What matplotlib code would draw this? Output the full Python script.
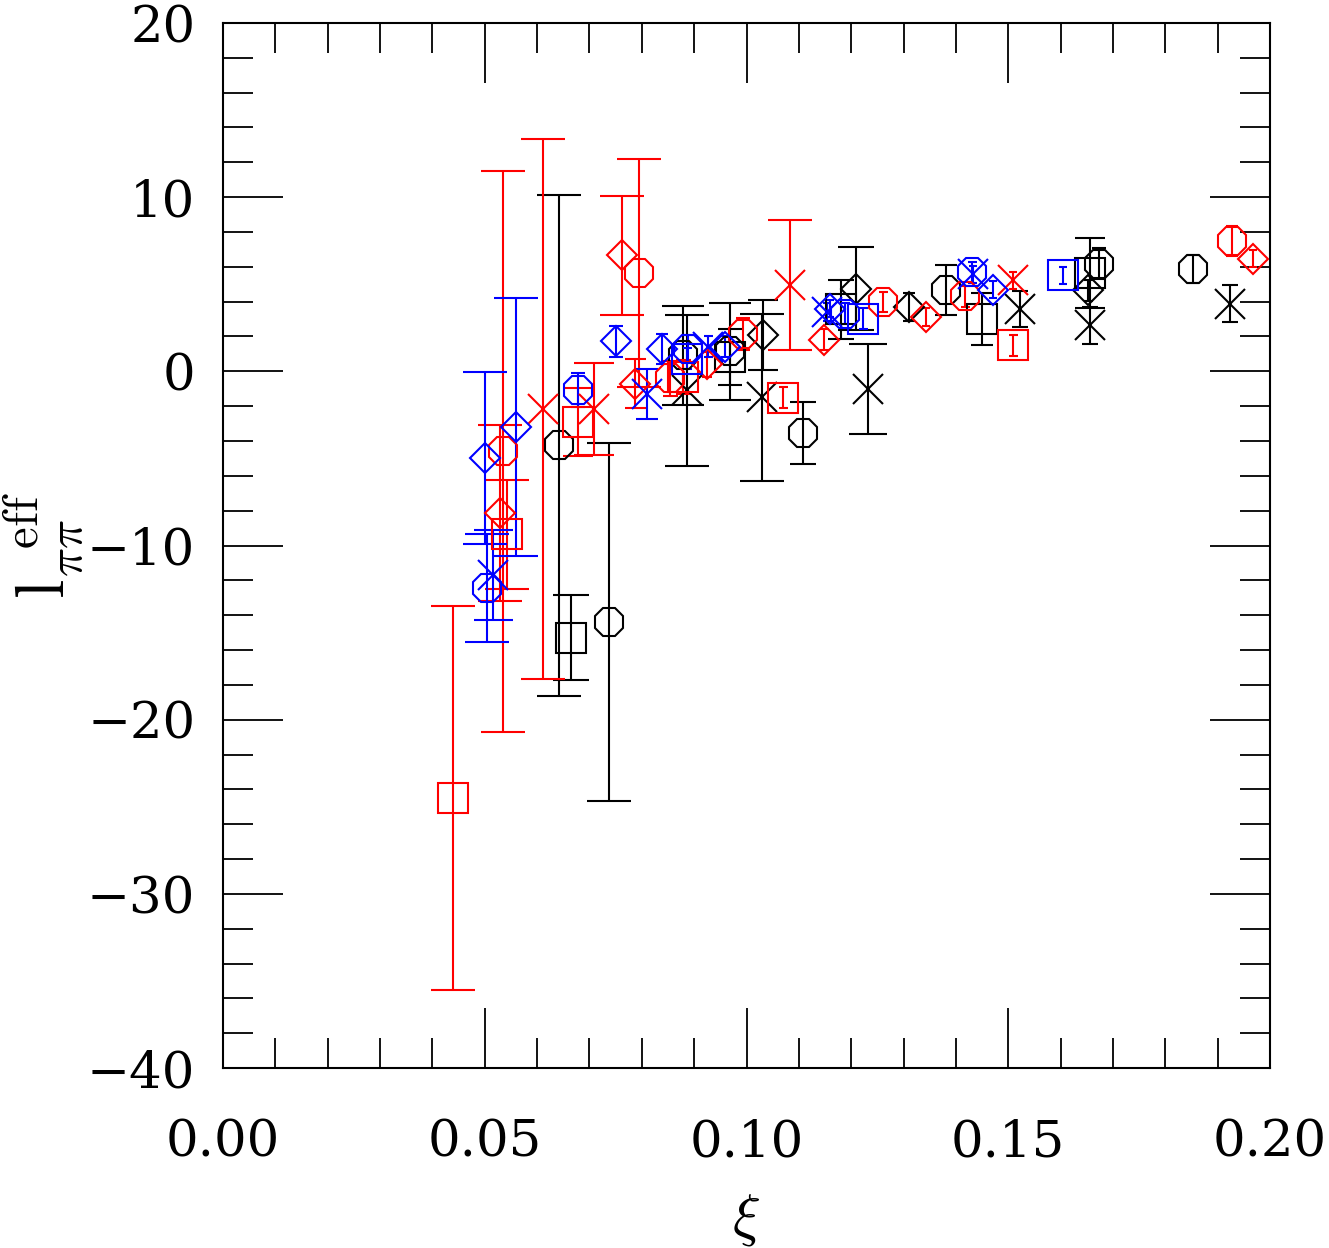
import matplotlib
matplotlib.use("Agg")
import matplotlib.pyplot as plt
from matplotlib.ticker import MultipleLocator, FormatStrFormatter

# ---- data: (xi, value, error) per colour / marker ----
blk_oct_x = [0.0642, 0.0738, 0.0879, 0.0968, 0.1108, 0.1381, 0.1674, 0.1853]
blk_oct_y = [-4.25, -14.39, 0.92, 1.14, -3.54, 4.65, 6.18, 5.89]
blk_oct_e = [14.4, 10.28, 2.83, 2.8, 1.77, 1.43, 0.9, 0.8]

blk_sq_x = [0.0665, 0.0968, 0.1181, 0.1449, 0.1656]
blk_sq_y = [-15.29, 0.82, 3.57, 3.02, 5.65]
blk_sq_e = [2.46, 1.63, 1.7, 1.5, 2.0]

blk_dia_x = [0.1032, 0.1210, 0.1311, 0.1653]
blk_dia_y = [2.1, 4.75, 3.69, 4.65]
blk_dia_e = [2.0, 2.39, 0.8, 0.6]

blk_x_x = [0.0886, 0.1029, 0.1233, 0.1522, 0.1656, 0.1924]
blk_x_y = [-1.08, -1.48, -1.0, 3.56, 2.64, 3.89]
blk_x_e = [4.33, 4.8, 2.58, 1.03, 1.05, 1.07]

red_oct_x = [0.0535, 0.0795, 0.0854, 0.0994, 0.1261, 0.1417, 0.1927]
red_oct_y = [-4.6, 5.64, -0.4, 2.16, 3.98, 4.32, 7.48]
red_oct_e = [16.1, 6.53, 1.0, 0.93, 0.6, 0.6, 0.85]

red_sq_x = [0.0440, 0.0543, 0.0679, 0.0879, 0.1070, 0.1510]
red_sq_y = [-24.5, -9.35, -2.9, -0.33, -1.51, 1.49]
red_sq_e = [11.0, 3.13, 1.95, 1.0, 0.6, 0.6]

red_dia_x = [0.0529, 0.0762, 0.0787, 0.0925, 0.1148, 0.1343, 0.1968]
red_dia_y = [-8.15, 6.66, -0.71, 0.4, 1.82, 3.12, 6.47]
red_dia_e = [5.05, 3.4, 1.4, 0.7, 0.6, 0.5, 0.5]

red_x_x = [0.0612, 0.0709, 0.1084, 0.1510]
red_x_y = [-2.18, -2.17, 4.94, 5.22]
red_x_e = [15.5, 2.65, 3.73, 0.5]

blu_oct_x = [0.0505, 0.0678, 0.0889, 0.1188, 0.1430]
blu_oct_y = [-12.45, -1.05, 1.3, 3.31, 5.7]
blu_oct_e = [3.1, 0.97, 0.77, 0.6, 0.6]

blu_sq_x = [0.0886, 0.1223, 0.1605]
blu_sq_y = [0.73, 3.03, 5.51]
blu_sq_e = [0.6, 0.6, 0.5]

blu_dia_x = [0.0500, 0.0559, 0.0750, 0.0838, 0.0959, 0.1160, 0.1470]
blu_dia_y = [-4.97, -3.19, 1.74, 1.3, 1.4, 3.6, 4.69]
blu_dia_e = [4.93, 7.42, 0.89, 0.86, 0.6, 0.5, 0.5]

blu_x_x = [0.0515, 0.0809, 0.0927, 0.1153, 0.1433]
blu_x_y = [-11.7, -1.3, 1.4, 3.4, 5.57]
blu_x_e = [2.6, 1.43, 0.6, 0.5, 0.5]

xticks = [0.00, 0.05, 0.10, 0.15, 0.20]
yticks = [-40, -30, -20, -10, 0, 10, 20]

series = [
    (blk_oct_x, blk_oct_y, blk_oct_e, "black", "8"),
    (blk_sq_x, blk_sq_y, blk_sq_e, "black", "s"),
    (blk_dia_x, blk_dia_y, blk_dia_e, "black", "D"),
    (blk_x_x, blk_x_y, blk_x_e, "black", "x"),
    (red_oct_x, red_oct_y, red_oct_e, "red", "8"),
    (red_sq_x, red_sq_y, red_sq_e, "red", "s"),
    (red_dia_x, red_dia_y, red_dia_e, "red", "D"),
    (red_x_x, red_x_y, red_x_e, "red", "x"),
    (blu_oct_x, blu_oct_y, blu_oct_e, "blue", "8"),
    (blu_sq_x, blu_sq_y, blu_sq_e, "blue", "s"),
    (blu_dia_x, blu_dia_y, blu_dia_e, "blue", "D"),
    (blu_x_x, blu_x_y, blu_x_e, "blue", "x"),
]
msize = {"8": 22, "s": 21, "D": 15, "x": 21}

plt.rcParams['font.family'] = ['DejaVu Serif']
plt.rcParams['mathtext.fontset'] = 'cm'

fig = plt.figure(figsize=(13.29, 12.48), dpi=100)
ax = fig.add_axes([223/1329, 1-1068/1248, (1270-223)/1329, (1068-23)/1248])

for xs, ys, es, col, mk in series:
    for x, y, e in zip(xs, ys, es):
        cap = min(15.5, 5.4 * e)
        ax.errorbar([x], [y], yerr=[e], fmt=mk, color=col, mfc='none', mec=col,
                    ms=msize[mk], mew=1.5, elinewidth=1.5, capsize=cap,
                    capthick=1.5, ecolor=col)

ax.set_xlim(0.0, 0.2)
ax.set_ylim(-40, 20)
ax.set_xticks(xticks)
ax.set_yticks(yticks)
ax.xaxis.set_major_formatter(FormatStrFormatter('%.2f'))
ax.xaxis.set_minor_locator(MultipleLocator(0.01))
ax.yaxis.set_minor_locator(MultipleLocator(2))
ax.tick_params(which='both', direction='in', top=True, right=True, width=1.3)
ax.tick_params(which='major', length=43, labelsize=37)
ax.tick_params(axis='x', which='major', pad=36)
ax.tick_params(axis='y', which='major', pad=20)
ax.tick_params(which='minor', length=21.5)
for s in ax.spines.values():
    s.set_linewidth(1.5)

ax.set_xlabel(r'$\xi$', fontsize=42, labelpad=18)
ax.set_ylabel(r'$\mathrm{l}_{\pi\pi}^{\ \ \mathrm{eff}}$', fontsize=50, labelpad=0)

fig.savefig("out.png", dpi=100)
